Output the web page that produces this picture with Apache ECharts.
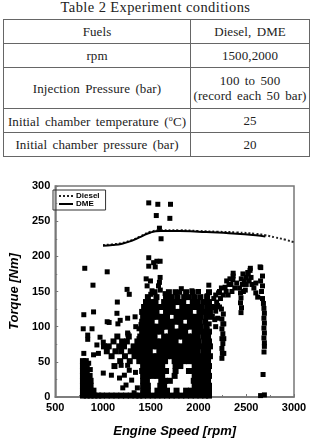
<!DOCTYPE html>
<html>
<head>
<meta charset="UTF-8">
<title>Torque vs Engine Speed</title>
<script src="https://cdn.jsdelivr.net/npm/echarts@6/dist/echarts.min.js"></script>
<style>
  body { margin: 0; width: 311px; height: 443px; background: #fff; position: relative; overflow: hidden; }
  .cap { position: absolute; left: 0; top: 0; width: 311px; text-align: center;
         font-family: "Liberation Serif", serif; font-size: 14.5px; letter-spacing: 0.4px; color: #222; line-height: 15px; }
  table { position: absolute; left: 3px; top: 19px; width: 307px; border-collapse: collapse;
          font-family: "Liberation Serif", serif; font-size: 13px; letter-spacing: 0.1px; color: #222; word-spacing: 2px; }
  td { border: 1px solid #666; text-align: center; padding: 0; line-height: 15px; }
  td.a { width: 186px; }
  #main { position: absolute; left: 0; top: 175px; width: 311px; height: 268px; }
</style>
</head>
<body>
<div class="cap">Table 2 Experiment conditions</div>
<table>
  <tr style="height:24px"><td class="a">Fuels</td><td>Diesel, DME</td></tr>
  <tr style="height:24px"><td class="a">rpm</td><td>1500,2000</td></tr>
  <tr style="height:41px"><td class="a">Injection Pressure (bar)</td><td>100 to 500<br>(record each 50 bar)</td></tr>
  <tr style="height:24px"><td class="a">Initial chamber temperature (<sup style="font-size:8px">o</sup>C)</td><td>25</td></tr>
  <tr style="height:24px"><td class="a">Initial chamber pressure (bar)</td><td>20</td></tr>
</table>
<div id="main"></div>
<script>
// full-load curves
var dieselRpm = [1000,1100,1200,1300,1400,1500,1600,1800,2000,2200,2400,2600,2700,2800,2900,3000];
var dieselNm  = [216,217,219,223,229,235,237,237,236,235,234,232,230,227,224,220];
var dmeRpm = [1000,1100,1200,1300,1400,1500,1600,1800,2000,2200,2400,2600,2700];
var dmeNm  = [215,216,218,222,228,234,236,236,235,234,232,230,228];

// scattered operating points [rpm, Nm]
var loosePoints = [
  [1479,276],[1574,274],[1707,274],[1558,258],[1700,254],[1591,240],[1608,225],
  [809,183],[1044,178],[895,159],[1252,153],[1275,146],[1150,135],
  [1479,198],[1530,191],[1564,193],[1598,193],[1547,185],[1479,186],
  [1452,168],[1497,165],[1598,170],[1581,158],[1462,158],[1513,151],[1591,163],
  [799,117],[901,121],[1044,107],[1064,106],[1146,119],[1180,109],[1258,112],[1336,114],[1456,119],
  [793,97],[885,97],[840,88],[840,82],[969,85],[1003,78],[1262,89],[1377,83],[1377,97],[1420,90],
  [1156,104],[1258,91],[1343,100],[1398,103],
  [799,62],[901,60],[936,74],[952,62],
  [850,48],[867,39],[1003,34],[1088,31],[1173,27],[1224,31],[1275,38],[1190,45],[1258,45],
  [1241,17],[1207,13],[1360,13],[1326,6],[1300,24],[1340,35],
  [2108,159],[1931,151],[1803,149],[2091,144],[2112,104],[2091,97],
  [1600,152],[1820,154],[2000,150],[1650,147],[1500,146],
  [2645,185],[2543,183],[2516,177],[2465,175],[2448,168],[2363,172],[2329,168],[2295,165],
  [2363,176],[2319,160],[2278,156],[2652,184],[2670,172],
  [2290,150],[2340,160],[2360,167],[2380,155],[2400,162],[2350,150],[2310,145],
  [2430,155],[2440,148],[2445,141],[2440,134],[2450,127],[2445,120],[2460,160],[2480,165],[2470,150],
  [2500,170],[2520,175],[2540,180],[2550,170],[2530,165],[2560,160],[2500,160],[2490,152],
  [2580,155],[2600,148],[2620,142],[2600,162],[2650,165],[2660,150],[2670,140],[2680,133],
  [2685,126],[2690,119],[2685,112],[2690,105],[2685,98],[2690,91],[2685,84],[2690,77],[2690,72],[2670,158],
  [2686,64],[2676,32],[2650,2],[2690,3],
  [2245,55],[2250,62],[2245,69],[2255,76],[2245,83],[2255,90],[2245,97],[2255,104],[2245,111],
  [2260,118],[2240,125],[2265,62],[2265,83],[2265,104],
  [2160,140],[2190,135],[2220,128],[2180,122],[2200,130],[2170,110],[2175,128],[2230,140],
  [2260,145],[2210,148],[2180,145],[2220,150],[2240,155],[2200,112],[2180,100]
];

// dense regions, row by row: [Nm, rpm list]
var denseRows = [
  [2,   [790,830,870,910,950,990,1040,1090,1140,1190,1240,1290,1340,1380,1420,1470,1520,1570,1620,1670,1720,1770,1820,1870,1920,1970,2020,2070,2110]],
  [9,   [790,830,870,900,1420,1470,1570,1620,1670,1770,1870,1920,1970,2020,2070,2110]],
  [16,  [790,830,870,1420,1470,1600,1640,1960,2010,2060,2110]],
  [23,  [790,830,870,1420,1460,1610,1650,1700,1950,2000,2050,2100]],
  [30,  [790,830,860,1420,1470,1520,1570,1620,1750,1960,2010,2060,2110]],
  [37,  [790,830,1410,1460,1510,1560,1610,1660,1760,1900,1950,2000,2050,2100]],
  [44,  [790,830,1120,1420,1470,1520,1570,1620,1760,1810,1960,2010,2060,2110]],
  [51,  [790,820,1180,1280,1380,1410,1460,1510,1560,1610,1650,1750,1800,1850,1900,1950,2000,2050,2100]],
  [58,  [1090,1230,1330,1380,1420,1470,1520,1570,1620,1670,1720,1770,1820,1870,1920,1970,2020,2070,2120]],
  [65,  [1040,1130,1190,1290,1340,1390,1440,1490,1590,1640,1690,1740,1790,1840,1890,1940,1990,2050,2100]],
  [72,  [1010,1060,1170,1220,1320,1370,1420,1470,1520,1570,1620,1670,1720,1770,1820,1870,1920,1970,2020,2070,2120]],
  [79,  [1110,1200,1250,1360,1410,1460,1510,1560,1610,1660,1710,1760,1860,1910,1960,2000,2060,2110]],
  [86,  [1150,1270,1390,1440,1490,1540,1640,1690,1740,1790,1840,1890,1940,1990,2050,2100]],
  [93,  [1410,1460,1510,1560,1610,1710,1760,1810,1860,1960,2010,2060,2110]],
  [100, [1420,1470,1520,1570,1620,1670,1720,1820,1870,1920,1970,2020,2080]],
  [107, [1410,1460,1510,1610,1660,1710,1760,1810,1910,1960,2010,2070]],
  [114, [1420,1470,1520,1570,1620,1670,1770,1820,1870,1920,1970,2020,2080,2140]],
  [121, [1410,1460,1510,1560,1660,1710,1760,1810,1860,1910,2010,2060,2120]],
  [128, [1430,1480,1530,1580,1630,1680,1730,1830,1880,1930,1980,2030,2090,2140]],
  [135, [1450,1500,1550,1640,1690,1740,1790,1840,1940,1990,2050,2110]],
  [142, [1470,1560,1660,1720,1780,1850,1900,1960,2020,2090]],
  [149, [1540,1690,1760,1870,1940,2110]]
];

var xTicks = [500, 3000, 500];   // min, max, interval
var yTicks = [0, 300, 50];

var denseData = [];
denseRows.forEach(function (row) {
  row[1].forEach(function (r) { denseData.push([r, row[0]]); });
});
function pairs(xs, ys) { return xs.map(function (x, i) { return [x, ys[i]]; }); }

var labelFont = { color: '#000', fontFamily: 'Liberation Sans', fontWeight: 'bold', fontSize: 11,
                  formatter: function (v) { return String(v); } };
var nameFont = { color: '#000', fontFamily: 'Liberation Sans', fontWeight: 'bold', fontStyle: 'italic', fontSize: 13 };
var tickStyle = { color: '#777' };

var myChart = echarts.init(document.getElementById('main'), null, { renderer: 'canvas' });
var option = {
  animation: false,
  grid: { left: 49, right: 17, top: 11, bottom: 44, show: true, borderColor: '#777', borderWidth: 1.5 },
  legend: {
    data: ['Diesel', 'DME'], orient: 'vertical', left: 53, top: 15,
    itemWidth: 14, itemHeight: 8, itemGap: 0, padding: [2, 6, 2, 5],
    borderColor: '#333', borderWidth: 1,
    itemStyle: { opacity: 0 },
    textStyle: { fontFamily: 'Liberation Sans', fontWeight: 'bold', fontSize: 8, color: '#000', padding: [0, 0, 0, -2] }
  },
  xAxis: {
    type: 'value', min: xTicks[0], max: xTicks[1], interval: xTicks[2],
    name: 'Engine Speed [rpm]', nameLocation: 'middle', nameGap: 28, nameTextStyle: nameFont,
    axisLine: { show: true, lineStyle: { color: '#777', width: 1.5 } },
    axisTick: { show: true, inside: true, length: 3, lineStyle: tickStyle },
    minorTick: { show: true, splitNumber: 2, length: 2, lineStyle: tickStyle },
    splitLine: { show: false },
    axisLabel: Object.assign({ margin: 5 }, labelFont)
  },
  yAxis: {
    type: 'value', min: yTicks[0], max: yTicks[1], interval: yTicks[2],
    name: 'Torque [Nm]', nameLocation: 'middle', nameGap: 28, nameTextStyle: nameFont,
    axisLine: { show: true, lineStyle: { color: '#777', width: 1.5 } },
    axisTick: { show: true, inside: true, length: 3, lineStyle: tickStyle },
    minorTick: { show: true, splitNumber: 2, length: 2, lineStyle: tickStyle },
    splitLine: { show: false },
    axisLabel: Object.assign({ margin: 5 }, labelFont)
  },
  series: [
    { name: 'points', type: 'scatter', symbol: 'rect', symbolSize: 6, data: denseData,
      itemStyle: { color: '#000', opacity: 1 }, silent: true, z: 2 },
    { name: 'loose', type: 'scatter', symbol: 'rect', symbolSize: 5, data: loosePoints,
      itemStyle: { color: '#000', opacity: 1 }, silent: true, z: 2 },
    { name: 'Diesel', type: 'line', data: pairs(dieselRpm, dieselNm), symbol: 'none', smooth: true,
      lineStyle: { color: '#222', width: 2, type: 'dotted' }, itemStyle: { color: '#222' }, z: 3 },
    { name: 'DME', type: 'line', data: pairs(dmeRpm, dmeNm), symbol: 'none', smooth: true,
      lineStyle: { color: '#000', width: 2 }, itemStyle: { color: '#000' }, z: 4 }
  ]
};
myChart.setOption(option);
</script>
</body>
</html>
